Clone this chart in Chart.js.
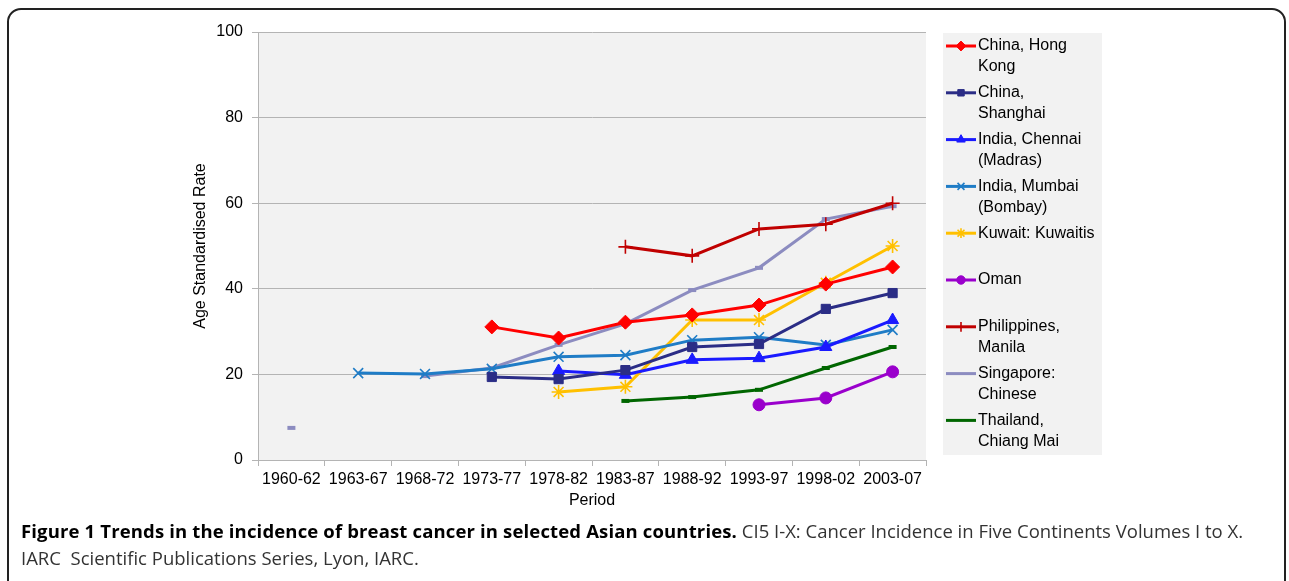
<!DOCTYPE html>
<html>
<head>
<meta charset="utf-8">
<title>Breast cancer incidence trends</title>
<script src="https://cdn.jsdelivr.net/npm/chart.js@4.4.0/dist/chart.umd.min.js"></script>
<style>
  html, body { margin: 0; padding: 0; background: #fff; }
  body { width: 1289px; height: 581px; overflow: hidden; position: relative; }
  #frame { position: absolute; left: 7px; top: 8px; width: 1275px; height: 620px;
           border: 2px solid #222; border-radius: 14px; }
  #wrap { position: absolute; left: 0; top: 0; width: 1289px; height: 520px; }
  #caption { position: absolute; left: 21px; top: 517px; width: 1262px;
             font-family: "Open Sans", sans-serif; font-size: 18.5px; line-height: 27px;
             color: #333; white-space: nowrap; }
  #caption b { color: #000; letter-spacing: 0.15px; }
</style>
</head>
<body>
<div id="frame"></div>
<div id="wrap"><canvas id="myChart" width="1289" height="520"></canvas></div>
<div id="caption"><b>Figure 1 Trends in the incidence of breast cancer in selected Asian countries.</b> CI5 I-X: Cancer Incidence in Five Continents Volumes I to X.<br>IARC&nbsp; Scientific Publications Series, Lyon, IARC.</div>

<script>
const periods = ["1960-62", "1963-67", "1968-72", "1973-77", "1978-82",
                 "1983-87", "1988-92", "1993-97", "1998-02", "2003-07"];

const hongKong    = [null, null, null, 31.1, 28.5, 32.2, 33.9, 36.2, 41.1, 45.1];
const shanghai    = [null, null, null, 19.4, 18.9, 21.0, 26.4, 27.1, 35.3, 39.0];
const chennai     = [null, null, null, null, 20.8, 19.9, 23.4, 23.8, 26.4, 32.7];
const mumbai      = [null, 20.3, 20.1, 21.3, 24.1, 24.5, 28.0, 28.7, 26.9, 30.4];
const kuwait      = [null, null, null, null, 15.9, 17.1, 32.7, 32.7, 41.4, 50.0];
const oman        = [null, null, null, null, null, null, null, 12.9, 14.5, 20.6];
const manila      = [null, null, null, null, null, 49.8, 47.7, 54.0, 55.1, 60.0];
const singapore   = [7.5, null, 19.6, 21.5, 26.9, 31.8, 39.7, 44.9, 56.3, 59.3];
const chiangMai   = [null, null, null, null, null, 13.8, 14.7, 16.4, 21.5, 26.4];

function series(label, data, color, style, radius, bw) {
  return {
    label: label,
    data: data,
    borderColor: color,
    backgroundColor: color,
    pointBackgroundColor: color,
    pointBorderColor: color,
    pointStyle: style,
    pointRadius: radius,
    pointBorderWidth: bw,
    borderWidth: 3,
    tension: 0,
    spanGaps: false,
  };
}

const datasets = [
  series("China, Hong Kong", hongKong, "#ff0000", "rectRot", 7, 1),
  series("China, Shanghai", shanghai, "#2b2d86", "rect", 6.5, 1),
  series("India, Chennai (Madras)", chennai, "#1a1aff", "triangle", 7, 1),
  series("India, Mumbai (Bombay)", mumbai, "#1f7cc6", "crossRot", 7, 1.6),
  series("Kuwait: Kuwaitis", kuwait, "#ffc000", "star", 7, 1.6),
  series("Oman", oman, "#9a00cc", "circle", 6, 1),
  series("Philippines, Manila", manila, "#c00000", "cross", 7, 1.6),
  series("Singapore: Chinese", singapore, "#8c8cc0", "line", 4, 4),
  series("Thailand, Chiang Mai", chiangMai, "#006600", "line", 4, 4),
];

// grey plot background
const plotBg = {
  id: "plotBg",
  beforeDraw(chart) {
    const a = chart.chartArea;
    const ctx = chart.ctx;
    ctx.save();
    ctx.fillStyle = "#f2f2f2";
    ctx.fillRect(a.left, a.top, a.right - a.left, a.bottom - a.top);
    ctx.restore();
  },
};

function wrapText(ctx, text, maxW) {
  const words = text.split(" ");
  const lines = [];
  let cur = "";
  words.forEach(w => {
    const t = cur ? cur + " " + w : w;
    if (cur && ctx.measureText(t).width > maxW) {
      lines.push(cur);
      cur = w;
    } else {
      cur = t;
    }
  });
  if (cur) lines.push(cur);
  return lines;
}

// legend box on the right, with wrapped labels
const sideLegend = {
  id: "sideLegend",
  afterDraw(chart) {
    const ctx = chart.ctx;
    ctx.save();
    ctx.fillStyle = "#f2f2f2";
    ctx.fillRect(943, 33, 159, 422);
    ctx.font = '16px "Liberation Sans", Arial, sans-serif';
    ctx.textBaseline = "middle";
    chart.data.datasets.forEach((ds, i) => {
      const y = 46 + i * 46.8;
      ctx.strokeStyle = ds.borderColor;
      ctx.lineWidth = 3;
      ctx.beginPath();
      ctx.moveTo(946, y);
      ctx.lineTo(976, y);
      ctx.stroke();
      ctx.fillStyle = ds.pointBackgroundColor;
      ctx.strokeStyle = ds.pointBorderColor;
      ctx.lineWidth = ds.pointBorderWidth;
      if (ds.pointStyle !== "line") {
        Chart.helpers.drawPoint(ctx, {
          pointStyle: ds.pointStyle,
          radius: ds.pointRadius * 0.7,
          borderWidth: ds.pointBorderWidth,
          rotation: 0,
        }, 961, y);
      }
      ctx.fillStyle = "#000";
      const lines = wrapText(ctx, ds.label, 117);
      lines.forEach((ln, k) => ctx.fillText(ln, 978, y + k * 21));
    });
    ctx.restore();
  },
};

Chart.defaults.font.family = '"Liberation Sans", Arial, sans-serif';
Chart.defaults.font.size = 16;
Chart.defaults.color = "#000";

let ctx = document.getElementById("myChart").getContext("2d");
let myChart = new Chart(ctx, {
  type: "line",
  data: { labels: periods, datasets: datasets },
  plugins: [plotBg, sideLegend],
  options: {
    responsive: false,
    animation: false,
    layout: { padding: { left: 191, right: 363, top: 32, bottom: 10 } },
    plugins: {
      legend: { display: false },
      tooltip: { enabled: false },
    },
    scales: {
      x: {
        offset: true,
        grid: { offset: true, drawOnChartArea: false, tickLength: 6, color: "#b4b4b4" },
        border: { color: "#b4b4b4" },
        ticks: { padding: 4, maxRotation: 0, autoSkip: false },
        title: { display: true, text: "Period", padding: 0 },
        afterFit: s => { s.height = 50; },
      },
      y: {
        min: 0,
        max: 100,
        ticks: { stepSize: 20, padding: 9 },
        grid: { color: "#b4b4b4", tickLength: 6 },
        border: { color: "#b4b4b4" },
        title: { display: true, text: "Age Standardised Rate", padding: 0 },
        afterFit: s => { s.width = 67; },
      },
    },
  },
});
</script>
</body>
</html>
